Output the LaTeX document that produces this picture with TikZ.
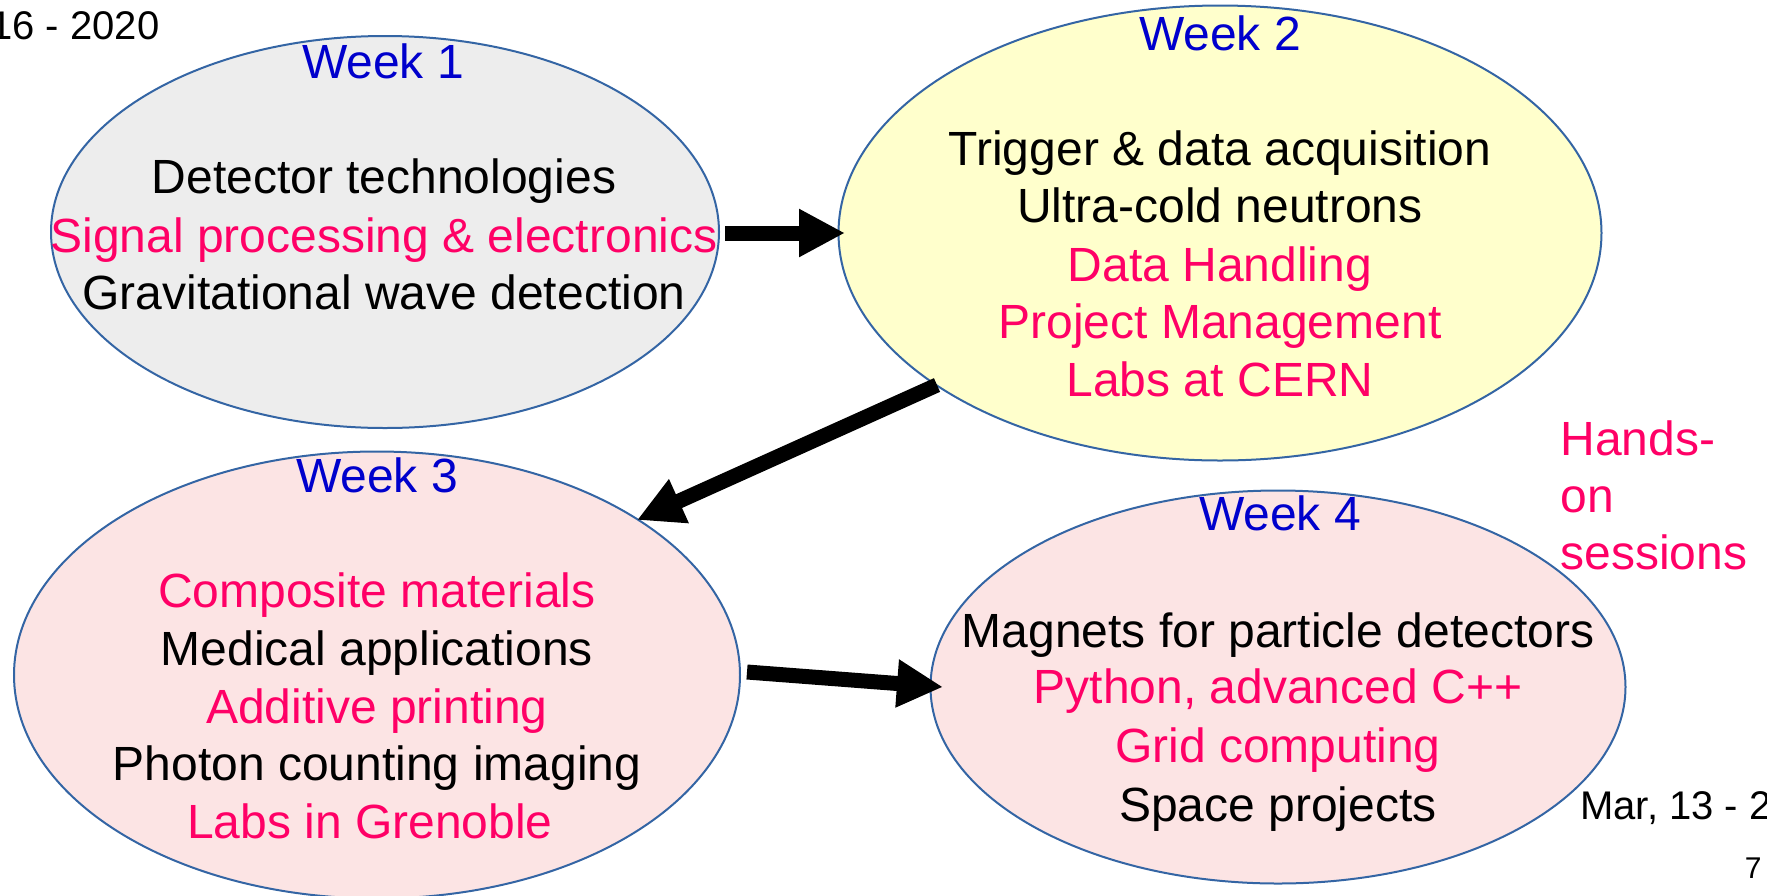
\documentclass[tikz,border=0pt]{standalone}
\usepackage{fontspec}
\setmainfont{Liberation Sans}
\usetikzlibrary{shapes.geometric,arrows.meta}
\definecolor{weekblue}{RGB}{0,0,204}
\definecolor{hotpink}{RGB}{255,0,102}
\definecolor{edgeblue}{RGB}{52,101,164}
\definecolor{fillgray}{RGB}{237,237,237}
\definecolor{fillyellow}{RGB}{255,255,204}
\definecolor{fillpink}{RGB}{252,228,228}
\tikzset{
  ell/.style={ellipse,draw=edgeblue,line width=1pt,inner sep=0pt},
  txt/.style={anchor=base,inner sep=0pt,font=\fontsize{24}{29}\selectfont},
  wk/.style={txt,text=weekblue},
  hot/.style={txt,text=hotpink},
  blk/.style={txt,text=black},
  bigarrow/.style={line width=7.5pt,-{Triangle[length=23pt,width=22.5pt]}},
}
\begin{document}
\begin{tikzpicture}[x=0.5pt,y=-0.5pt]
\useasboundingbox (0,0) rectangle (1767,895);
% ellipses
\node[ell,fill=fillgray,minimum width=668pt*0.5,minimum height=392pt*0.5] (e1) at (385,232) {};
\node[ell,fill=fillyellow,minimum width=763pt*0.5,minimum height=455pt*0.5] (e2) at (1220,233) {};
\node[ell,fill=fillpink,minimum width=726pt*0.5,minimum height=447pt*0.5] (e3) at (377,675) {};
\node[ell,fill=fillpink,minimum width=695pt*0.5,minimum height=393pt*0.5] (e4) at (1278,687) {};
% week 1
\node[wk] (w1) at (383,78) {Week 1};
\node[blk] (w1a) at (384,193) {Detector technologies};
\node[hot] (w1b) at (384,252) {Signal processing \& electronics};
\node[blk] (w1c) at (384,309) {Gravitational wave detection};
% week 2
\node[wk] (w2) at (1220,50) {Week 2};
\node[blk] (w2a) at (1220,165) {Trigger \& data acquisition};
\node[blk] (w2b) at (1220,222) {Ultra-cold neutrons};
\node[hot] (w2c) at (1220,281) {Data Handling};
\node[hot] (w2d) at (1220,338) {Project Management};
\node[hot] (w2e) at (1220,396) {Labs at CERN};
% week 3
\node[wk] (w3) at (377,492) {Week 3};
\node[hot] (w3a) at (377,607) {Composite materials};
\node[blk] (w3b) at (377,665) {Medical applications};
\node[hot] (w3c) at (377,723) {Additive printing};
\node[blk] (w3d) at (377,780) {Photon counting imaging};
\node[hot] (w3e) at (370,838) {Labs in Grenoble};
% week 4
\node[wk] (w4) at (1280,530) {Week 4};
\node[blk] (w4a) at (1278,647) {Magnets for particle detectors};
\node[hot] (w4b) at (1278,703) {Python, advanced C++};
\node[hot] (w4c) at (1278,762) {Grid computing};
\node[blk] (w4d) at (1278,821) {Space projects};
% hands-on
\node[hot,anchor=base west] (h1) at (1560,455) {Hands-};
\node[hot,anchor=base west] (h2) at (1560,512) {on};
\node[hot,anchor=base west] (h3) at (1560,569) {sessions};
% dates and page
\node[anchor=base west,inner sep=0pt,font=\fontsize{20}{24}\selectfont] (d1) at (-10,39) {16 - 2020};
\node[anchor=base west,inner sep=0pt,font=\fontsize{20}{24}\selectfont] (d2) at (1580,819) {Mar, 13 - 2};
\node[anchor=base east,inner sep=0pt,font=\fontsize{15}{18}\selectfont] (pg) at (1762,878) {7};
% arrows
\coordinate (a1s) at (725,233);
\coordinate (a1e) at (845,233);
\coordinate (a2s) at (937,385);
\coordinate (a2e) at (637,520);
\coordinate (a3s) at (747,672);
\coordinate (a3e) at (943,687);
\draw[bigarrow] (a1s) -- (a1e);
\draw[bigarrow] (a2s) -- (a2e);
\draw[bigarrow] (a3s) -- (a3e);
\end{tikzpicture}
\end{document}
